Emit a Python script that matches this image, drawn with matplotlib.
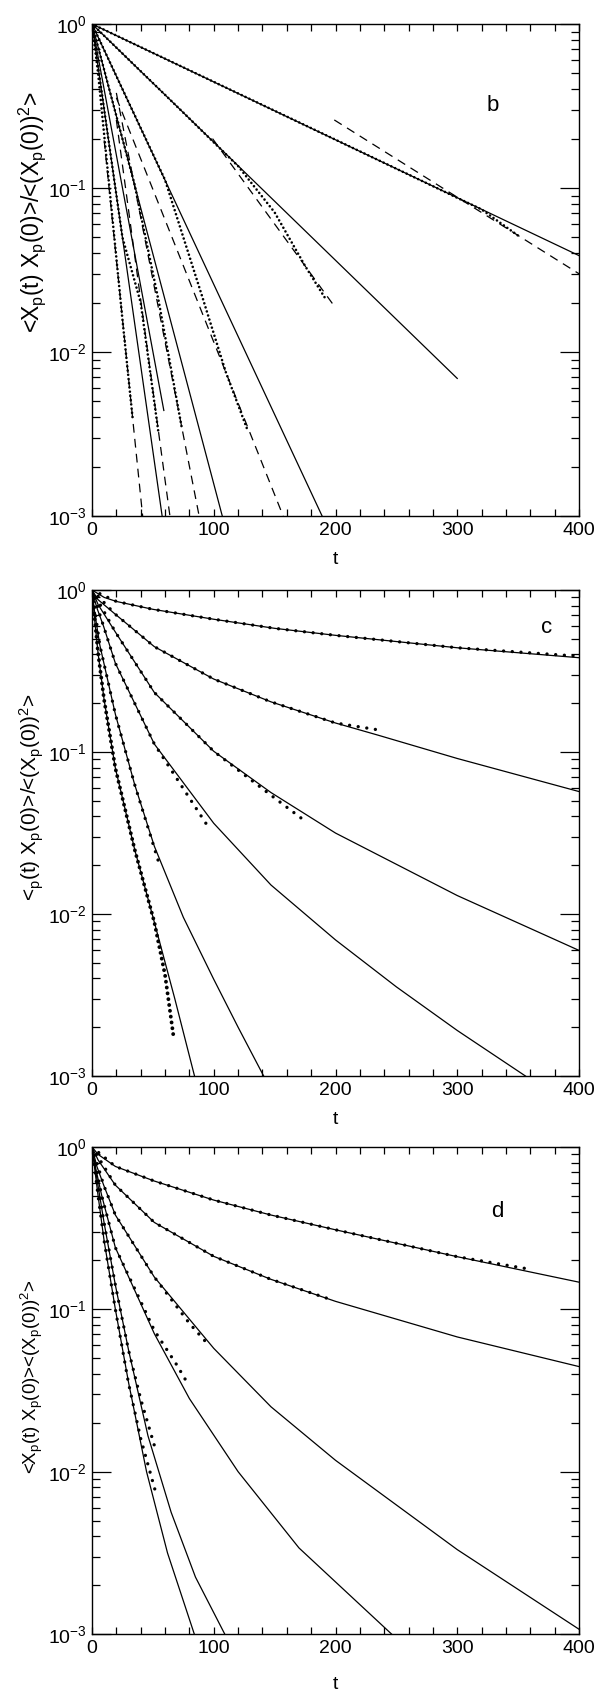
import matplotlib
matplotlib.use("Agg")
import matplotlib.pyplot as plt
from matplotlib.ticker import LogLocator, MultipleLocator, NullFormatter

plt.rcParams['font.family'] = ['Liberation Sans', 'DejaVu Sans']
plt.rcParams['mathtext.fontset'] = 'custom'
plt.rcParams['mathtext.rm'] = 'Liberation Sans'
plt.rcParams['mathtext.it'] = 'Liberation Sans:italic'

# ---------------- data: panel b ----------------
b_fit_t = [[0, 400], [0, 300], [0, 189], [0, 107], [0, 59], [0, 57.6]]
b_fit_y = [[1.0, 0.0387], [1.0, 0.0069], [1.0, 0.001], [1.0, 0.001], [1.0, 0.0044], [1.0, 0.001]]
b_sim_t = [[0, 100, 200, 280, 320, 352], [0, 60, 120, 150, 175, 192], [0, 30, 60, 90, 110, 128],
           [0, 20, 35, 55, 73.6], [0, 10, 25, 40, 54.4], [0, 5, 15, 25, 33.6]]
b_sim_y = [[1.0, 0.444, 0.197, 0.1026, 0.074, 0.05], [1.0, 0.37, 0.136, 0.071, 0.0335, 0.021],
           [1.0, 0.334, 0.112, 0.0224, 0.0075, 0.0033], [1.0, 0.275, 0.105, 0.02, 0.0035],
           [1.0, 0.30, 0.05, 0.02, 0.0033], [1.0, 0.50, 0.089, 0.0158, 0.0038]]
b_tail_t = [[199, 400], [99, 198], [20, 157], [20, 88], [20, 64], [10, 41.6]]
b_tail_y = [[0.26, 0.030], [0.20, 0.0195], [0.355, 0.001], [0.38, 0.001], [0.26, 0.001], [0.195, 0.001]]

# ---------------- data: panel c ----------------
c_fit_t = [[0, 10, 20, 50, 100, 150, 200, 300, 400],
           [0, 5, 19.2, 51.2, 100, 147, 200, 235, 300, 400],
           [0, 5, 19.2, 51.2, 100, 147, 200, 300, 400],
           [0, 4, 9.6, 19.2, 51.2, 100, 147, 200, 250, 300, 356],
           [0, 2, 6.4, 19.2, 35, 51.2, 75, 99.8, 120, 141],
           [0, 2, 5, 10, 19.2, 35, 51.2, 68, 84.2]]
c_fit_y = [[1.0, 0.90, 0.85, 0.76, 0.66, 0.58, 0.525, 0.44, 0.382],
           [1.0, 0.871, 0.708, 0.447, 0.282, 0.204, 0.151, 0.127, 0.0912, 0.057],
           [1.0, 0.813, 0.55, 0.233, 0.101, 0.0562, 0.0316, 0.013, 0.00596],
           [1.0, 0.776, 0.594, 0.353, 0.112, 0.0363, 0.0151, 0.00692, 0.00355, 0.00191, 0.001],
           [1.0, 0.741, 0.458, 0.171, 0.0631, 0.0262, 0.00955, 0.00398, 0.002, 0.001],
           [1.0, 0.676, 0.407, 0.209, 0.0794, 0.0251, 0.0089, 0.0030, 0.001]]
c_sim_t = [[0, 20, 50, 100, 150, 200, 300, 400], [0, 19.2, 51.2, 100, 147, 200, 235],
           [0, 19.2, 51.2, 100, 150, 176], [0, 9.6, 19.2, 51.2, 80, 96],
           [0, 6.4, 19.2, 35, 56], [0, 5, 10, 19.2, 35, 51.2, 60, 67.2]]
c_sim_y = [[1.0, 0.85, 0.76, 0.66, 0.58, 0.525, 0.44, 0.39], [1.0, 0.708, 0.447, 0.282, 0.204, 0.151, 0.137],
           [1.0, 0.55, 0.233, 0.101, 0.052, 0.037], [1.0, 0.594, 0.353, 0.112, 0.052, 0.034],
           [1.0, 0.458, 0.171, 0.0631, 0.0195], [1.0, 0.407, 0.209, 0.0794, 0.0251, 0.0089, 0.0042, 0.0017]]

# ---------------- data: panel d ----------------
d_fit_t = [[0, 5, 19.2, 51.2, 100, 147, 200, 300, 400],
           [0, 5, 19.2, 51.2, 100, 147, 200, 300, 400],
           [0, 4, 9.6, 19.2, 51.2, 100, 147, 200, 300, 400],
           [0, 3, 8, 19.2, 51.2, 80, 120, 170, 246],
           [0, 2, 5, 10, 19.2, 30, 46, 65, 85, 109],
           [0, 2, 5, 10, 19.2, 30, 44.8, 62, 84]]
d_fit_y = [[1.0, 0.90, 0.759, 0.617, 0.471, 0.381, 0.309, 0.211, 0.147],
           [1.0, 0.832, 0.582, 0.343, 0.212, 0.153, 0.112, 0.0676, 0.0444],
           [1.0, 0.759, 0.582, 0.381, 0.158, 0.0575, 0.0251, 0.01175, 0.00331, 0.00107],
           [1.0, 0.741, 0.501, 0.24, 0.0708, 0.0282, 0.010, 0.00339, 0.001],
           [1.0, 0.794, 0.575, 0.339, 0.141, 0.0562, 0.0166, 0.00562, 0.00224, 0.001],
           [1.0, 0.759, 0.501, 0.263, 0.10, 0.0355, 0.010, 0.00316, 0.001]]
d_sim_t = [[0, 19.2, 51.2, 100, 147, 200, 300, 357], [0, 19.2, 51.2, 100, 147, 196],
           [0, 9.6, 19.2, 51.2, 80, 96], [0, 8, 19.2, 51.2, 70, 80],
           [0, 5, 10, 19.2, 30, 40, 51.8], [0, 5, 10, 19.2, 30, 40, 51.8]]
d_sim_y = [[1.0, 0.759, 0.617, 0.471, 0.381, 0.309, 0.211, 0.178], [1.0, 0.582, 0.343, 0.212, 0.153, 0.115],
           [1.0, 0.582, 0.381, 0.158, 0.082, 0.06], [1.0, 0.501, 0.24, 0.0741, 0.045, 0.0335],
           [1.0, 0.575, 0.339, 0.141, 0.056, 0.028, 0.014], [1.0, 0.50, 0.263, 0.10, 0.035, 0.016, 0.0077]]

ylabels = ['<X$_{\\rm p}$(t) X$_{\\rm p}$(0)>/<(X$_{\\rm p}$(0))$^{2}$>',
           '<$_{\\rm p}$(t) X$_{\\rm p}$(0)>/<(X$_{\\rm p}$(0))$^{2}$>',
           '<X$_{\\rm p}$(t) X$_{\\rm p}$(0)><(X$_{\\rm p}$(0))$^{2}$>']
ylabel_sizes = [16.5, 15, 13.5]
ylabel_frac = [0.383, 0.427, 0.472]
xlabel_pads = [9, 9, 14]
panel_names = ['b', 'c', 'd']
panel_name_xy = [(329, 0.32), (373, 0.59), (333, 0.40)]

W, H = 609, 1694
fig = plt.figure(figsize=(W / 100, H / 100), dpi=100)

left, right = 92, 579
tops = [24, 590, 1147]
heights = [492, 486, 487]

axes = [fig.add_axes([left / W, 1 - (t + h) / H, (right - left) / W, h / H]) for t, h in zip(tops, heights)]

def style(ax, pad):
    ax.set_yscale('log')
    ax.set_xlim(0, 400)
    ax.set_ylim(1e-3, 1.0)
    ax.xaxis.set_major_locator(MultipleLocator(100))
    ax.xaxis.set_minor_locator(MultipleLocator(20))
    ax.yaxis.set_major_locator(LogLocator(base=10, numticks=10))
    ax.yaxis.set_minor_locator(LogLocator(base=10, subs=range(2, 10), numticks=10))
    ax.yaxis.set_minor_formatter(NullFormatter())
    ax.tick_params(which='both', direction='in', top=True, right=True, labelsize=14, width=0.9, pad=4)
    ax.tick_params(axis='x', which='both', length=5)
    ax.tick_params(axis='y', which='major', length=14)
    ax.tick_params(axis='y', which='minor', length=6)
    for s in ax.spines.values():
        s.set_linewidth(1.0)
    ax.set_xlabel('t', fontsize=14, labelpad=pad)

dot_b = dict(color='black', linestyle=(0, (0.01, 1.6)), dash_capstyle='round', lw=1.9)
dot_cd = dict(color='black', linestyle=(0, (0.01, 2.6)), dash_capstyle='round', lw=2.4)
dot_thick = dict(color='black', linestyle=(0, (0.01, 1.5)), dash_capstyle='round', lw=2.8)
solid = dict(color='black', lw=0.9)
dashed = dict(color='black', lw=0.9, linestyle=(0, (7, 5)))

ax = axes[0]
for t, y in zip(b_sim_t, b_sim_y):
    ax.plot(t, y, **dot_b)
for t, y in zip(b_fit_t, b_fit_y):
    ax.plot(t, y, **solid)
for t, y in zip(b_tail_t, b_tail_y):
    ax.plot(t, y, **dashed)

ax = axes[1]
for i, (t, y) in enumerate(zip(c_sim_t, c_sim_y)):
    ax.plot(t, y, **(dot_thick if i == 5 else dot_cd))
for t, y in zip(c_fit_t, c_fit_y):
    ax.plot(t, y, **solid)

ax = axes[2]
for t, y in zip(d_sim_t, d_sim_y):
    ax.plot(t, y, **dot_cd)
for t, y in zip(d_fit_t, d_fit_y):
    ax.plot(t, y, **solid)

for ax, top, h, lab, fs, fr, pad, name, (nx, ny) in zip(axes, tops, heights, ylabels, ylabel_sizes,
                                                        ylabel_frac, xlabel_pads, panel_names, panel_name_xy):
    style(ax, pad)
    ax.text(nx, ny, name, fontsize=16, ha='center', va='center')
    fig.text(32 / W, 1 - (top + h * fr) / H, lab, rotation=90, ha='center', va='center', fontsize=fs)

fig.savefig('out.png', dpi=100)
